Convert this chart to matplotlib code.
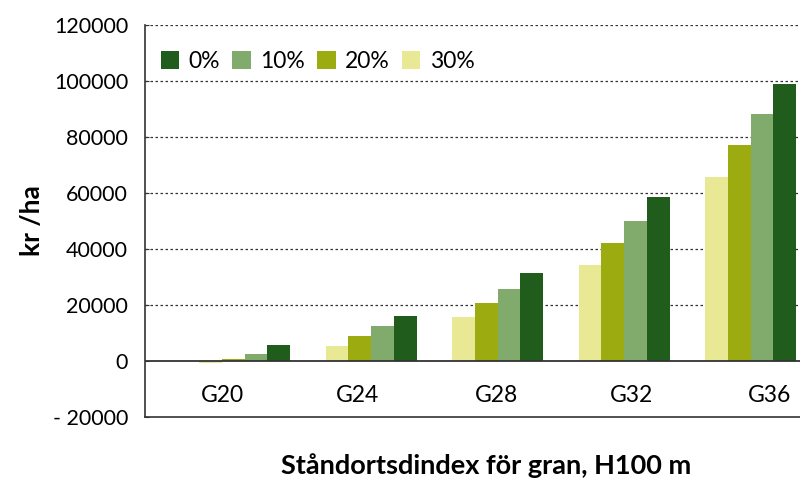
import matplotlib
matplotlib.use("Agg")
import matplotlib.pyplot as plt
import numpy as np

categories = ["G20", "G24", "G28", "G32", "G36"]
series_names = ["30%", "20%", "10%", "0%"]
v30 = [-600, 5400, 15700, 34200, 65500]
v20 = [500, 8900, 20600, 42000, 77200]
v10 = [2600, 12500, 25600, 49800, 88300]
v0 = [5500, 16000, 31300, 58400, 98900]
yticks = [-20000, 0, 20000, 40000, 60000, 80000, 100000, 120000]
ytick_labels = ["- 20000", "0", "20000", "40000", "60000", "80000", "100000", "120000"]

colors = {"0%": "#205c1c", "10%": "#81aa6d", "20%": "#9cab10", "30%": "#e9e895"}

plt.rcParams['font.family'] = ['Lato', 'DejaVu Sans']

fig = plt.figure(figsize=(8, 4.78), dpi=100)
ax = fig.add_axes([0.181, 0.128, 0.819, 0.82])

x = np.arange(len(categories))
w = 0.18
offsets = [-1.5, -0.5, 0.5, 1.5]
bars = {}
for name, vals, off in zip(series_names, [v30, v20, v10, v0], offsets):
    bars[name] = ax.bar(x + off * w, vals, w, color=colors[name], zorder=3)

ax.set_xlim(-0.79, 4.39)
ax.set_ylim(-20000, 120000)

for t in yticks:
    if t > 0:
        ax.axhline(t, color="#333333", linestyle=(0, (2, 2)), linewidth=0.9, zorder=1)
ax.axhline(0, color="#333333", linewidth=1.3, zorder=4)

ax.set_yticks(yticks)
ax.set_yticklabels(ytick_labels, fontsize=15.5)
ax.tick_params(axis='y', direction='in', length=3, pad=12, color="#333333")
ax.set_xticks([])

label_pos = [-0.18, 0.89, 1.99, 3.06, 4.15]
for lp, c in zip(label_pos, categories):
    ax.text(lp, -12500, c, ha='center', va='center', fontsize=16.5, color='black')

for s in ['top', 'right']:
    ax.spines[s].set_visible(False)
ax.spines['left'].set_color("#333333")
ax.spines['bottom'].set_color("#333333")
ax.spines['left'].set_linewidth(1.2)
ax.spines['bottom'].set_linewidth(1.2)

ax.set_ylabel("kr /ha", fontsize=19, fontweight='bold', labelpad=6)
fig.text(0.608, 0.027, "Ståndortsdindex för gran, H100 m", ha='center', va='center',
         fontsize=19.5, fontweight='bold')

handles = [bars[n] for n in ["0%", "10%", "20%", "30%"]]
leg = ax.legend(handles, ["0%", "10%", "20%", "30%"], loc='center left',
                bbox_to_anchor=(0.0, 0.906), ncol=4, frameon=False, fontsize=16.5,
                handlelength=0.8, handleheight=0.8, handletextpad=0.4, columnspacing=0.55,
                borderaxespad=0.3)

fig.savefig("out.png", dpi=100)
